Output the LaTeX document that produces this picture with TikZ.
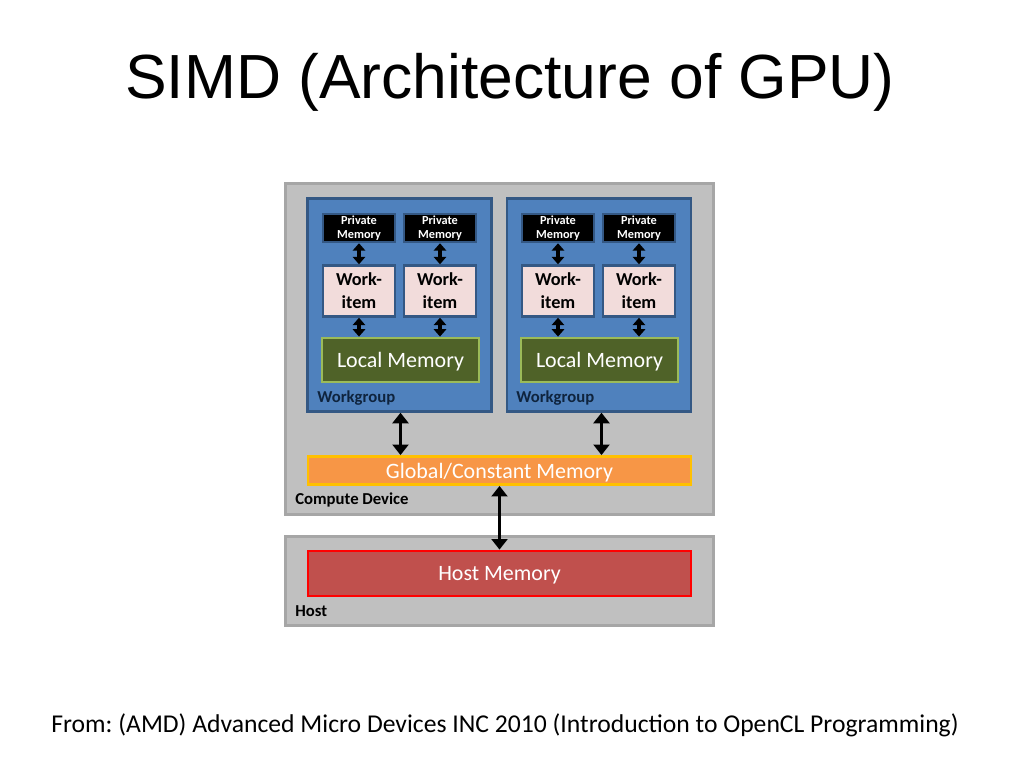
\documentclass[tikz,border=0pt]{standalone}
\usepackage{fontspec}
\setmainfont{Carlito}
\newfontfamily\titlefont{Liberation Sans}
\usepackage{tikz}
\usetikzlibrary{arrows.meta}
\frenchspacing

\definecolor{areagray}{RGB}{192,192,192}
\definecolor{arealine}{RGB}{166,166,166}
\definecolor{wgblue}{RGB}{79,129,189}
\definecolor{wgline}{RGB}{52,88,132}
\definecolor{wgtext}{RGB}{15,36,62}
\definecolor{itempink}{RGB}{242,220,219}
\definecolor{localgreen}{RGB}{79,98,40}
\definecolor{localline}{RGB}{155,187,89}
\definecolor{globalorange}{RGB}{247,150,70}
\definecolor{globalline}{RGB}{255,192,0}
\definecolor{hostred}{RGB}{192,80,77}
\definecolor{hostline}{RGB}{255,0,0}

\begin{document}
\begin{tikzpicture}[x=0.02cm, y=-0.02cm,
  area/.style = {draw=arealine, line width=1.6pt, fill=areagray},
  group/.style = {draw=wgline, line width=1.4pt, fill=wgblue,
        minimum width=3.68cm, minimum height=4.26cm},
  priv/.style = {draw=wgline, line width=1.4pt, fill=black, text=white,
        align=center, inner sep=0pt, minimum width=1.44cm, minimum height=0.56cm,
        font=\bfseries\fontsize{7}{8.3}\selectfont},
  item/.style = {draw=wgline, line width=1.4pt, fill=itempink,
        align=center, inner sep=0pt, minimum width=1.44cm, minimum height=1.02cm,
        font=\bfseries\fontsize{10.4}{13}\selectfont},
  mem/.style = {line width=1.6pt, text=white, inner sep=0pt, text depth=0pt,
        font=\fontsize{12.5}{14}\selectfont},
  tag/.style = {anchor=west, inner sep=0pt, font=\bfseries\fontsize{9.5}{11}\selectfont},
  link/.style = {line width=2.2pt, {Triangle[width=9pt,length=6pt]}-{Triangle[width=9pt,length=6pt]}},
  minilink/.style = {line width=2pt, {Triangle[width=7pt,length=4.2pt]}-{Triangle[width=7pt,length=4.2pt]}}]
 \useasboundingbox[fill=white] (0,0) rectangle (1024,768);

 \node[anchor=base, font=\titlefont\fontsize{35.5}{40}\selectfont] (title) at (510,98)
      {SIMD (Architecture of GPU)};

 \node[area, minimum width=8.56cm, minimum height=6.62cm] (cd) at (499.5,349) {};
 \node[area, minimum width=8.56cm, minimum height=1.78cm] (host) at (499.5,581) {};

 \node[group] (wg1) at (399.5,305) {};
 \node[group] (wg2) at (599,305) {};

 \node[priv] (pm11) at (359,228) {Private\\Memory};
 \node[priv] (pm12) at (440,228) {Private\\Memory};
 \node[priv] (pm21) at (558,228) {Private\\Memory};
 \node[priv] (pm22) at (639,228) {Private\\Memory};

 \node[item] (wi11) at (359,291) {Work-\\item};
 \node[item] (wi12) at (440,291) {Work-\\item};
 \node[item] (wi21) at (558,291) {Work-\\item};
 \node[item] (wi22) at (639,291) {Work-\\item};

 \node[mem, draw=localline, fill=localgreen, minimum width=3.14cm, minimum height=0.88cm]
      (lm1) at (400.5,360) {Local Memory};
 \node[mem, draw=localline, fill=localgreen, minimum width=3.14cm, minimum height=0.88cm]
      (lm2) at (599.5,360) {Local Memory};

 \node[mem, draw=globalline, fill=globalorange, minimum width=7.66cm, minimum height=0.56cm]
      (gm) at (499.5,470.5) {Global/Constant Memory};
 \node[mem, draw=hostline, fill=hostred, minimum width=7.66cm, minimum height=0.9cm]
      (hm) at (499.5,573.5) {Host Memory};

 \node[tag, text=wgtext] (wg1n) at (317,398) {Workgroup};
 \node[tag, text=wgtext] (wg2n) at (516,398) {Workgroup};
 \node[tag] (cdn) at (295,500) {Compute Device};
 \node[tag] (hostn) at (295,611) {Host};

 \node[anchor=base, font=\fontsize{14.6}{17}\selectfont] (src) at (505,732)
      {From: (AMD) Advanced Micro Devices INC 2010 (Introduction to OpenCL Programming)};

 \foreach \g in {1,2}{
  \foreach \i in {1,2}{
   \draw[minilink] (pm\g\i) -- (wi\g\i);
   \draw[minilink] (wi\g\i) -- (wi\g\i |- lm\g.north);
  }
 }
 \draw[link] ([xshift=0.02cm]wg1.south) -- ([xshift=0.02cm]wg1.south |- gm.north);
 \draw[link] ([xshift=0.05cm]wg2.south) -- ([xshift=0.05cm]wg2.south |- gm.north);
 \draw[link] (gm) -- (hm);
\end{tikzpicture}
\end{document}
